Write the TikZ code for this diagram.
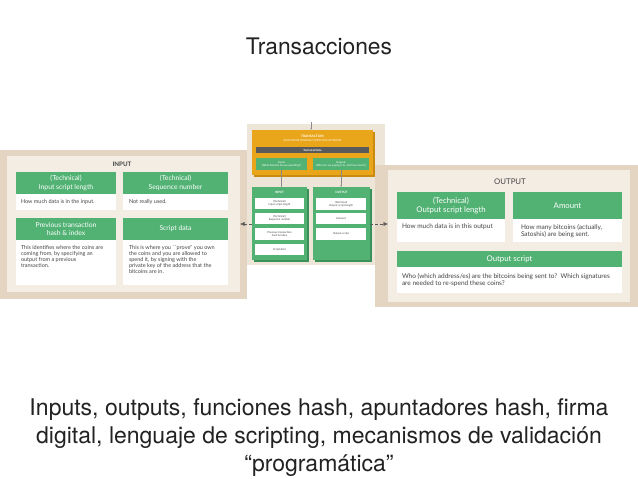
\documentclass[tikz,border=0pt]{standalone}
\usepackage{fontspec}
\setmainfont{TeX Gyre Heros}
\newfontfamily\dg{Lato}
\usetikzlibrary{arrows.meta}
\definecolor{tan}{HTML}{E3D5C1}
\definecolor{lite}{HTML}{F3EDE4}
\definecolor{cbg}{HTML}{EEE5D9}
\definecolor{grn}{HTML}{52B274}
\definecolor{dgrn}{HTML}{3B8F58}
\definecolor{org}{HTML}{E9A61A}
\definecolor{dorg}{HTML}{C98C10}
\definecolor{gry}{HTML}{5A5A5A}
\definecolor{txt}{HTML}{444444}
\definecolor{big}{HTML}{222222}
\newcommand\mybox[7]{\node[#2, minimum width=#5pt, minimum height=#6pt, anchor=north west] (#1) at (#3,#4) {#7};}
\tikzset{
  base/.style={inner sep=0pt, outer sep=0pt},
  panel/.style={base, fill=tan},
  inner/.style={base, fill=lite},
  hdrL/.style={base, fill=grn, text=white, align=center, font=\dg\fontsize{6.8}{8.5}\selectfont},
  hdrR/.style={base, fill=grn, text=white, align=center, font=\dg\fontsize{7.8}{9.5}\selectfont},
  bodybox/.style={base, fill=white},
  bodyL/.style={base, anchor=north west, text=txt, align=left, font=\dg\fontsize{5.5}{6.1}\selectfont},
  bodyR/.style={base, anchor=north west, text=txt, align=left, font=\dg\fontsize{6.5}{7.6}\selectfont},
  ptitle/.style={base, text=txt, font=\dg\bfseries\fontsize{6.2}{7}\selectfont},
  ptitleR/.style={base, text=txt, font=\dg\fontsize{7.8}{9}\selectfont},
  tiny/.style={base, align=center, font=\dg\fontsize{2.6}{3.2}\selectfont},
  wbox/.style={base, fill=white, align=center, text=txt, font=\dg\fontsize{2.7}{3.3}\selectfont},
  conn/.style={draw=gry, line width=0.4pt, densely dashed, -{Latex[length=4.5pt,width=4pt]}},
  cconn/.style={draw=gry!70, line width=0.3pt, -{Latex[length=1.6pt,width=1.4pt]}}
}
\begin{document}
\begin{tikzpicture}[x=1pt,y=-1pt]
\useasboundingbox (0,0) rectangle (638,479);
\fill[white] (0,0) rectangle (638,479);
% title
\node[base, text=big, font=\fontsize{22.8}{26}\selectfont] (title) at (319,46) {Transacciones};

% ---------- centre panel ----------
\mybox{cpanel}{base, fill=cbg}{247}{124}{138}{141}{}
\fill[dorg] (254,132) rectangle (375,177);
\mybox{trans}{base, fill=org}{252}{130}{121}{45}{}
\node[tiny, text=white, font=\dg\bfseries\fontsize{3.2}{3.6}\selectfont] (ttl) at (312.5,136) {TRANSACTION};
\node[tiny, text=white] (tsub) at (312.5,141) {(DATA WE'RE SENDING TO BITCOIN NETWORK)};
\mybox{tech}{base, fill=gry, text=white, font=\dg\bfseries\fontsize{2.8}{3.2}\selectfont}{256}{147}{113}{6}{Technical Data}
\mybox{inp}{base, fill=grn, text=white, align=center, font=\dg\fontsize{2.7}{3.4}\selectfont}{256}{158}{51}{12}{Inputs\\(What bitcoins are we spending?)}
\mybox{outp}{base, fill=grn, text=white, align=center, font=\dg\fontsize{2.7}{3.4}\selectfont}{313}{158}{56}{12}{Outputs\\(Who are we paying it to, and how much?)}
\coordinate (top) at (311,122);
\draw[cconn] (top) -- (top |- trans.north);

\fill[dgrn] (254,189) rectangle (309,262);
\mybox{inbox}{base, fill=grn}{252}{187}{55}{73}{}
\fill[dgrn] (315,189) rectangle (372,262);
\mybox{outbox}{base, fill=grn}{313}{187}{57}{73}{}
\node[tiny, text=white, font=\dg\bfseries\fontsize{3}{3.4}\selectfont] (inttl) at (279.5,192.5) {INPUT};
\node[tiny, text=white, font=\dg\bfseries\fontsize{3}{3.4}\selectfont] (outttl) at (341.5,192.5) {OUTPUT};
\draw[cconn] (inp.south) -- (inp.south |- inbox.north);
\draw[cconn] (outp.south) -- (outp.south |- outbox.north);

\mybox{ci1}{wbox}{255}{198}{49}{11}{(Technical)\\Input script length}
\mybox{ci2}{wbox}{255}{213}{49}{11}{(Technical)\\Sequence number}
\mybox{ci3}{wbox}{255}{228}{49}{12}{Previous transaction\\hash \& index}
\mybox{ci4}{wbox}{255}{244}{49}{11}{Script data}
\mybox{co1}{wbox}{316}{198}{50}{12}{(Technical)\\Output script length}
\mybox{co2}{wbox}{316}{213}{50}{11}{Amount}
\mybox{co3}{wbox}{316}{228}{50}{12}{Output script}

% ---------- left INPUT panel ----------
\mybox{lpanel}{panel}{0}{150}{247}{149}{}
\mybox{linner}{inner}{7}{156}{233}{136}{}
\node[ptitle] (lttl) at (122,164) {INPUT};
\mybox{lh1}{hdrL}{16}{172}{100}{22}{(Technical)\\Input script length}
\mybox{lb1}{bodybox}{16}{194}{100}{16}{}
\node[bodyL] (lt1) at (21,199.5) {How much data is in the input.};
\mybox{lh2}{hdrL}{123}{172}{105}{22}{(Technical)\\Sequence number}
\mybox{lb2}{bodybox}{123}{194}{105}{16}{}
\node[bodyL] (lt2) at (129,199.5) {Not really used.};
\mybox{lh3}{hdrL}{16}{218}{100}{22}{Previous transaction\\hash \& index}
\mybox{lb3}{bodybox}{16}{240}{100}{45}{}
\node[bodyL] (lt3) at (21,245) {This identifies where the coins are\\coming from, by specifying an\\output from a previous\\transaction.};
\mybox{lh4}{hdrL}{123}{218}{105}{22}{Script data}
\mybox{lb4}{bodybox}{123}{240}{105}{45}{}
\node[bodyL] (lt4) at (129,245) {This is where you ``prove'' you own\\the coins and you are allowed to\\spend it, by signing with the\\private key of the address that the\\bitcoins are in.};

% ---------- right OUTPUT panel ----------
\mybox{rpanel}{panel}{375}{165}{263}{142}{}
\mybox{rinner}{inner}{388}{170}{242}{132}{}
\node[ptitleR] (rttl) at (510,182) {OUTPUT};
\mybox{rh1}{hdrR}{397}{192}{108}{27}{(Technical)\\Output script length}
\mybox{rb1}{bodybox}{397}{219}{108}{23}{}
\node[bodyR] (rt1) at (402,224) {How much data is in this output};
\mybox{rh2}{hdrR}{513}{192}{109}{27}{Amount}
\mybox{rb2}{bodybox}{513}{219}{109}{23}{}
\node[bodyR] (rt2) at (521,224) {How many bitcoins (actually,\\Satoshis) are being sent.};
\mybox{rh3}{hdrR}{397}{251}{225}{16}{Output script}
\mybox{rb3}{bodybox}{397}{267}{225}{26}{}
\node[bodyR] (rt3) at (402,273) {Who (which address/es) are the bitcoins being sent to?\ \ Which signatures\\are needed to re-spend these coins?};

% connectors from centre to panels
\draw[conn] (inbox.west |- 0,224) -- (linner.east |- 0,224);
\draw[conn] (outbox.east |- 0,224) -- (rinner.west |- 0,224);

% bottom text
\node[base, text=big, align=center, font=\fontsize{23}{28}\selectfont] (sub) at (319,438) {Inputs, outputs, funciones hash, apuntadores hash, firma\\digital, lenguaje de scripting, mecanismos de validación\\``programática''};
\end{tikzpicture}
\end{document}
